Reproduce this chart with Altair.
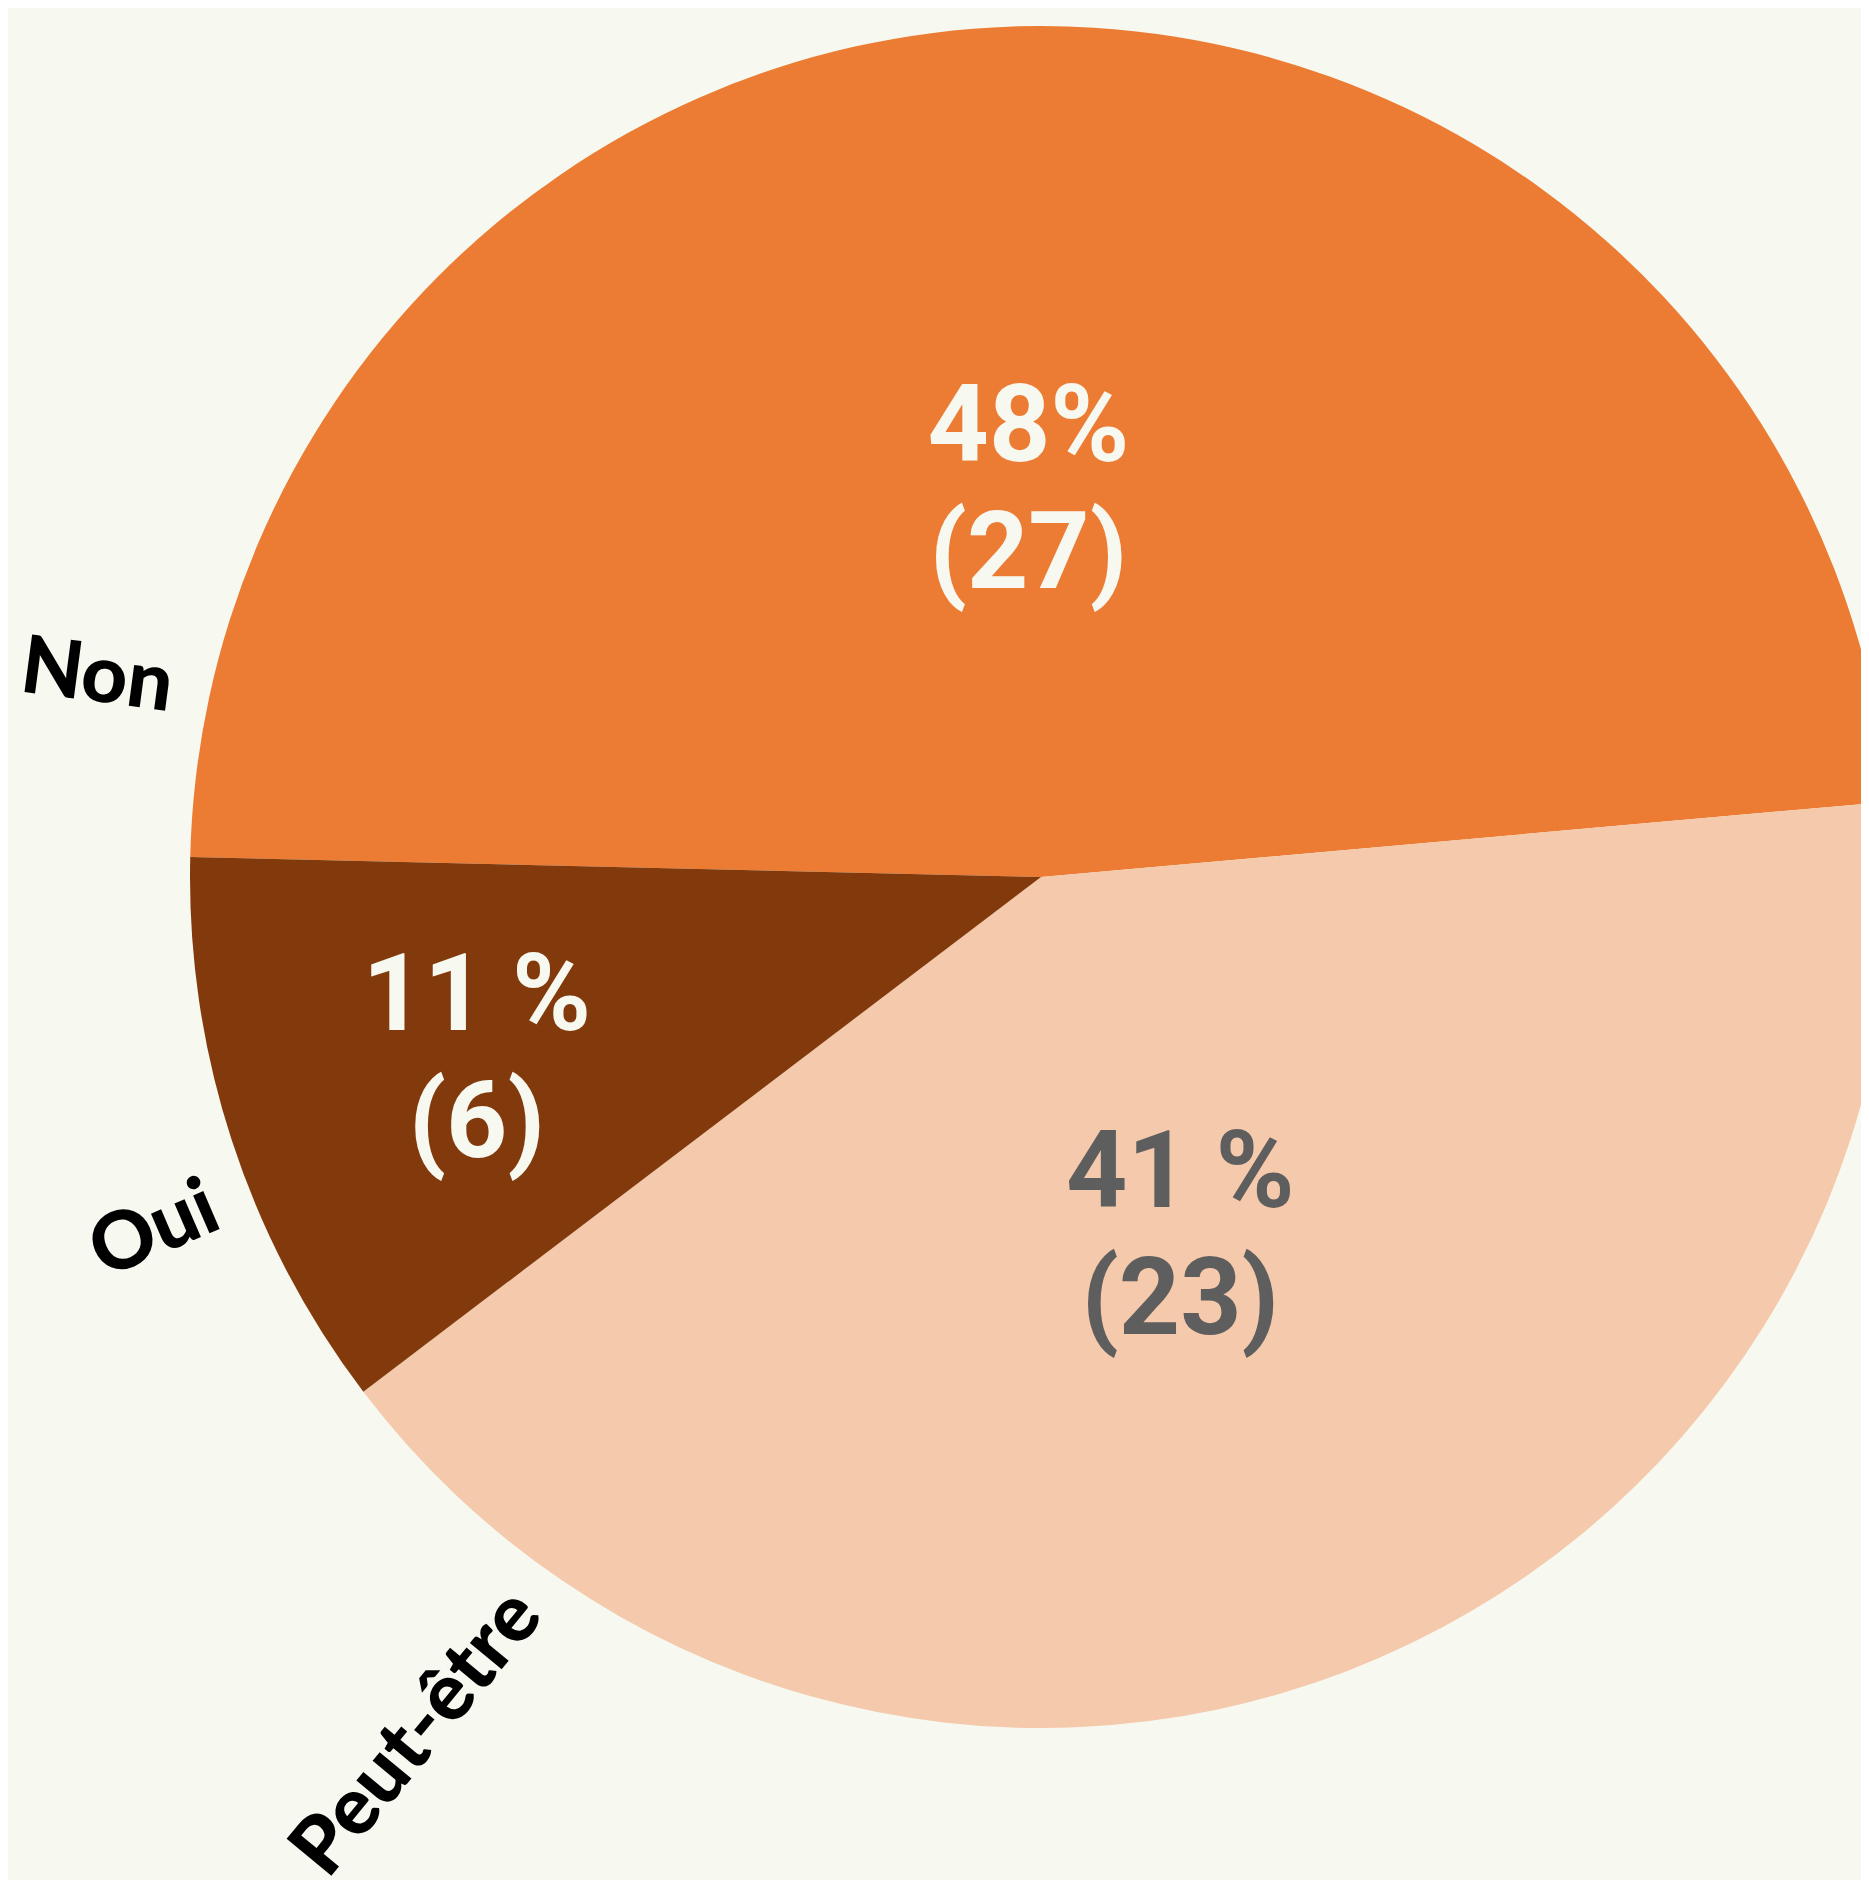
import math
import altair as alt
import pandas as pd

# ---- data ----
categories = ["Non", "Peut-être", "Oui"]
counts = [27, 23, 6]
pct_labels = ["48%", "41 %", "11 %"]

# ---- styles ----
slice_colors = ["#EC7C33", "#F5C9AB", "#823A0C"]
text_colors = ["#F7F8F0", "#5E5E5E", "#F7F8F0"]
BG = "#F7F8F0"

df = pd.DataFrame({
    "category": categories,
    "count": counts,
    "pct": pct_labels,
    "order": list(range(len(categories))),
})
df["label"] = [f"{p}\n({c})" for p, c in zip(pct_labels, counts)]

total = sum(counts)
start = math.radians(271.35)
CX, CY, R = 1033, 869, 851

base = alt.Chart(df)

pie_scale = alt.Scale(domain=[0, total], range=[start, start + 2 * math.pi])

arcs = base.mark_arc(outerRadius=R).encode(
    theta=alt.Theta("count:Q", stack=True, scale=pie_scale),
    order=alt.Order("order:Q"),
    fill=alt.Fill("category:N", scale=alt.Scale(domain=categories, range=slice_colors), legend=None),
    x=alt.value(CX),
    y=alt.value(CY),
)

inner = base.transform_window(
    cum="sum(count)", sort=[alt.SortField("order", order="ascending")]
).transform_calculate(
    mid="datum.cum - datum.count / 2",
    label_r="datum.count < 10 ? 593 : 386",
).mark_text(
    font="Roboto", fontWeight="bold",
    fontSize=107, lineHeight=127, dy=-62,
    lineBreak="\n", align="center", baseline="middle",
).encode(
    theta=alt.Theta("mid:Q", stack=False, scale=pie_scale),
    radius=alt.Radius("label_r:Q", stack=False, scale=None),
    text="label:N",
    color=alt.Color("category:N", scale=alt.Scale(domain=categories, range=text_colors), legend=None),
    x=alt.value(CX),
    y=alt.value(CY),
)

outer = base.transform_window(
    cum="sum(count)", sort=[alt.SortField("category", order="descending")]
).transform_calculate(
    mid="datum.cum - datum.count / 2"
).mark_text(
    font="Lato", fontWeight=900, fontSize=80, align="right", baseline="middle",
    radius=889, color="#000000",
).encode(
    theta=alt.Theta("mid:Q", stack=False,
                    scale=alt.Scale(type="pow", exponent=0.84, domain=[0, total], range=[3.1745, 5.3845])),
    angle=alt.Angle("mid:Q", scale=alt.Scale(domain=[0, total], range=[288.0, 392.8])),
    text="category:N",
    x=alt.value(CX),
    y=alt.value(CY),
)

chart = alt.layer(arcs, inner, outer).resolve_scale(
    theta="independent", color="independent", fill="independent", radius="independent"
).properties(
    width=1853, height=1872, autosize="none", padding=0, background=BG,
).configure_view(stroke=None)

chart.save("out.html", embed_options={"renderer": "svg", "actions": False})
